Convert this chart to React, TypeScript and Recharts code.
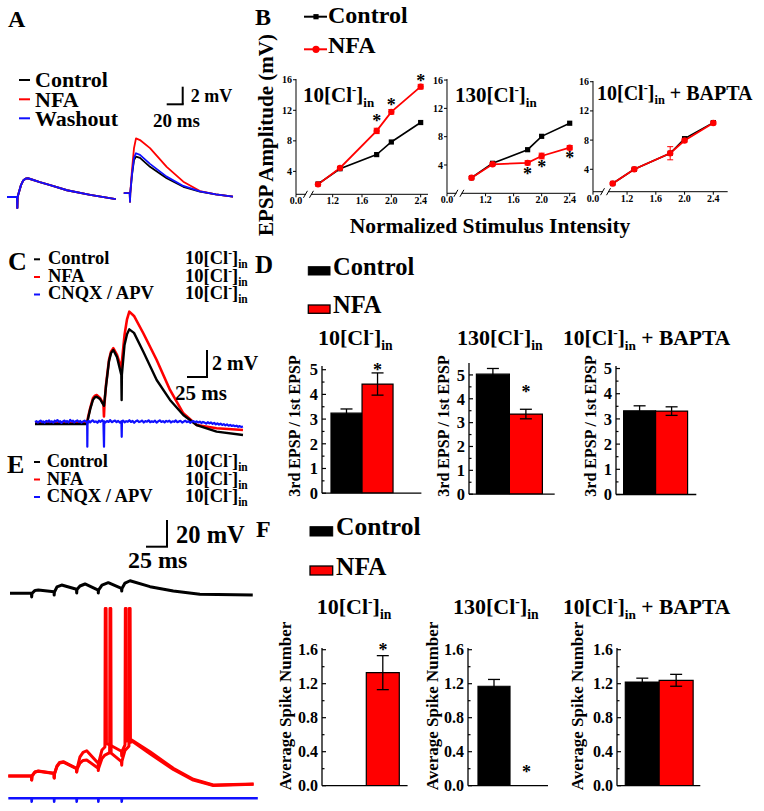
import React from 'react';
import { LineChart, Line, XAxis, YAxis, BarChart, Bar, Cell, ErrorBar, ReferenceDot } from 'recharts';

const FONT = "'Liberation Serif', 'Times New Roman', serif";
const RED = '#ff0000';
const BLUE = '#1010ff';

// ---------- Panel A traces (ms, mV) ----------
const aLeftTrace: number[][] = [[0,0],[12.5,0],[12.9,-1.3],[13.25,0],[15,0.6],[17.5,1.4],[20,1.9],[23,2.15],[26,2.2],[31,2.05],[41,1.75],[54,1.4],[75,0.8],[104,0.25],[136,-0.25]];
const aRightControl: number[][] = [[146,0.45],[153.4,0.45],[153.75,-0.55],[154.1,0.45],[156.25,2.6],[158.75,4.35],[161.25,4.75],[166.25,4.6],[178.75,3.55],[199.6,2.2],[220.4,1.2],[241.25,0.62],[261,0.3],[282.5,0.04]];
const aRightWashout: number[][] = [[146,0.45],[153.4,0.45],[153.75,-0.55],[154.1,0.45],[156.25,2.7],[158.75,4.6],[161.25,5.15],[166.25,4.95],[178.75,3.9],[199.6,2.4],[220.4,1.3],[241.25,0.65],[261,0.3],[282.5,0.04]];
const aRightNfa: number[][] = [[146,0.45],[153.4,0.45],[153.75,-0.55],[154.1,0.45],[156.25,3.2],[158.75,5.75],[161.25,6.9],[166.25,6.7],[178.75,5.75],[199.6,3.55],[220.4,1.8],[241.25,0.7],[261,0.3],[282.5,0.04]];

// ---------- Panel C traces ----------
const cNfa: number[][] = [[0,0],[65,0],[66.5,0.5],[69,1.13],[72.5,1.87],[75,2.05],[77.1,2.1],[81.25,1.88],[85.6,1.43],[86.2,0.5],[86.8,1.4],[88.75,2.84],[92.5,4.7],[95,5.3],[97.9,5.56],[102.5,5.06],[107.9,4.07],[109,4.8],[111.9,6.54],[115,7.7],[117.9,8.27],[123.75,7.95],[135.4,6.67],[152.1,4.69],[168.75,2.47],[185.4,0.74],[202,-0.13],[227,-0.37],[260,-0.5]];
const cControl: number[][] = [[0,-0.05],[65,-0.05],[66.5,0.4],[69,1.05],[72.5,1.75],[75,1.93],[77.1,1.97],[81.25,1.8],[85.6,1.36],[86.3,1.3],[88.75,2.75],[92.5,4.6],[95,5.2],[97.9,5.43],[102.5,4.9],[107.9,3.58],[108.3,1.73],[108.6,3.6],[111.9,5.8],[115,6.6],[117.9,6.96],[123.75,6.7],[135.4,5.3],[152.1,3.21],[168.75,1.73],[185.4,0.61],[202,-0.13],[227,-0.62],[260,-0.87]];
const cBlocked: number[][] = [[0,0.1],[2,0.16],[3.5,0.06],[5,0.12],[7,0.2],[9,0.08],[10.5,0.14],[12,0.04],[14,0.18],[16,0.11],[17.5,0.22],[19,0.09],[21,0.15],[23,0.05],[24.5,0.19],[26,0.12],[28,0.24],[30,0.1],[31.5,0.16],[33,0.03],[35,0.14],[37,0.2],[38.5,0.09],[40,0.17],[42,0.06],[44,0.25],[46,0.13],[47.5,0.19],[49,0.07],[51,0.15],[53,0.21],[55,0.1],[56.5,0.17],[58,0.05],[60,0.13],[62,0.2],[64,0.11],[65.2,0.1],[65.4,-1.73],[65.7,0.1],[67,0.18],[69,0.07],[70.5,0.16],[72,0.22],[74,0.09],[76,0.14],[78,0.04],[80,0.19],[82,0.11],[84,0.23],[85.5,0.12],[86.25,-1.73],[86.6,0.15],[88,0.06],[90,0.17],[92,0.1],[94,0.24],[96,0.08],[98,0.15],[100,0.2],[102,0.09],[104,0.18],[106,0.05],[108,0.15],[108.4,-1.0],[108.7,0.12],[110,0.2],[112,0.07],[114,0.16],[116,0.11],[118,0.23],[120,0.1],[122,0.17],[124,0.04],[126,0.15],[128,0.21],[130,0.09],[132,0.14],[134,0.2],[136,0.06],[138,0.16],[140,0.12],[142,0.22],[144,0.08],[146,0.15],[148,0.1],[150,0.19],[152,0.05],[154,0.14],[156,0.22],[158,0.1],[160,0.16],[162,0.07],[164,0.18],[166,0.12],[168,0.2],[170,0.06],[172,0.15],[174,0.11],[176,0.21],[178,0.08],[180,0.14],[182,0.18],[184,0.05],[186,0.13],[188,0.19],[190,0.09],[192,0.15],[194,0.04],[196,0.12],[198,0.17],[200,0.08],[202,0.14],[204,0.06],[206,0.12],[208,0.02],[210,0.1],[212,0.05],[214,-0.02],[216,0.08],[218,0.0],[220,0.06],[222,-0.04],[224,0.03],[226,-0.08],[228,0.0],[230,-0.1],[232,-0.03],[234,-0.12],[236,-0.06],[238,-0.15],[240,-0.08],[242,-0.18],[244,-0.12],[246,-0.2],[248,-0.15],[250,-0.22],[252,-0.18],[254,-0.26],[256,-0.21],[258,-0.27],[260,-0.24]];

// ---------- Panel E traces ----------
const eControl: number[][] = [[0,0],[25.6,0],[25.8,-2.7],[26.2,0],[29.8,2.1],[33.7,2.4],[52.4,1.2],[52.6,-1.3],[52.9,1.0],[55.9,4.7],[61.5,6.1],[79.2,3.0],[79.4,0.2],[79.7,2.8],[83.3,5.4],[89.3,6.9],[105,2.4],[105.1,0.2],[105.4,2.3],[109.5,6.1],[117,7.9],[132.7,3.7],[133,1.7],[133.3,3.5],[136.9,7.6],[142.9,9.3],[166.7,4.9],[194.4,1.7],[226,-0.74],[289,-1.26]];
const eNfaA: number[][] = [[-2,0],[25.6,0],[25.8,-3],[26.2,0],[29.8,3],[33.7,3.7],[52.4,2],[52.6,-1.5],[53,1.8],[55.9,7.4],[59,10],[63.5,10.6],[79.2,5.7],[79.4,3],[79.8,5.5],[83.3,14.1],[87,17.5],[91.3,18.7],[105,9.4],[105.1,7.4],[105.5,9.5],[109.5,19.3],[113,21.5],[113.4,124],[114.4,124],[114.8,24],[119,23],[132.7,18.3],[133,14.8],[133.3,18],[136.9,23],[137.3,124],[138.3,124],[138.7,26],[144.9,26.7],[166.7,18],[194.4,5.7],[218.2,-2.4],[242,-6.7],[290,-5.9]];
const eNfaB: number[][] = [[-2,0],[25.6,0],[25.8,-3],[26.2,0],[29.8,3],[33.7,3.5],[52.4,1.8],[52.6,-1.5],[53,1.6],[55.9,7],[59,9.6],[63.5,10.2],[79.2,5.5],[79.4,3],[79.8,5],[83.3,9.5],[87,11.5],[91.3,11.9],[105,5.7],[105.1,4],[105.5,5.8],[109.5,13],[113,15.5],[117,16.8],[118.6,17],[119,124],[120,124],[120.4,17],[132.7,10.6],[133,8],[133.3,11],[136.9,19],[141.6,22],[142,124],[143,124],[143.4,25],[146,25.5],[166.7,16.5],[194.4,4.8],[218.2,-3],[242,-7],[290,-6.2]];
const eBlocked: number[][] = [[-2,0],[25.6,0],[25.8,-2.5],[26.1,0],[52.4,0],[52.6,-2.5],[52.9,0],[79.2,0],[79.4,-2.5],[79.7,0],[105,0],[105.2,-2.5],[105.5,0],[132.8,0],[133,-2.5],[133.3,0],[295,0]];

// ---------- Panel B: EPSP amplitude vs normalized stimulus intensity ----------
const intensity = [1.0, 1.3, 1.8, 2.0, 2.4];
const b10Control = [2.35, 4.35, 6.2, 7.85, 10.4];
const b10Nfa = [2.3, 4.45, 9.3, 11.8, 15.1];
const b10NfaErr = [0.15, 0.2, 0.35, 0.3, 0.3];
const b130Control = [2.2, 4.24, 6.16, 8.05, 9.9];
const b130Nfa = [2.2, 4.1, 4.3, 5.27, 6.44];
const b130NfaErr = [0.15, 0.2, 0.3, 0.4, 0.3];
const bBaptaControl = [2.05, 4.0, 6.2, 8.2, 10.4];
const bBaptaNfa = [2.05, 4.0, 6.2, 7.95, 10.35];
const bBaptaNfaErr = [0.1, 0.1, 0.9, 0.2, 0.15];
const b10Stars = [[1.8, 10.86], [2.0, 13.0], [2.4, 16.2]];
const b130Stars = [[1.8, 3.1], [2.0, 4.07], [2.4, 5.27]];
const bYTicks = [4, 8, 12, 16];

// ---------- Panel D: 3rd EPSP / 1st EPSP ----------
const groups = ['Control', 'NFA'];
const d10 = [3.24, 4.42];
const d10Err = [0.17, 0.45];
const d130 = [5.03, 3.36];
const d130Err = [0.24, 0.2];
const dBapta = [3.32, 3.31];
const dBaptaErr = [0.2, 0.17];
const dTicks = [0, 1, 2, 3, 4, 5];

// ---------- Panel F: average spike number ----------
const f10 = [0, 1.33];
const f10Err = [0, 0.2];
const f130 = [1.17, 0];
const f130Err = [0.08, 0];
const fBapta = [1.22, 1.24];
const fBaptaErr = [0.045, 0.07];
const fTicks = [0, 0.4, 0.8, 1.2, 1.6];

const barColors = ['#000000', RED];

type Series = { data: number[][]; color: string; w: number };

function Trace({ box, origin, pxMs, pxMv, lines }: { box: number[]; origin: number[]; pxMs: number; pxMv: number; lines: Series[] }) {
  const [bx, by, bw, bh] = box;
  const xd = [(bx - origin[0]) / pxMs, (bx + bw - origin[0]) / pxMs];
  const yd = [(origin[1] - (by + bh)) / pxMv, (origin[1] - by) / pxMv];
  return (
    <div style={{ position: 'absolute', left: bx, top: by }}>
      <LineChart width={bw} height={bh} margin={{ top: 0, right: 0, bottom: 0, left: 0 }}>
        <XAxis type="number" dataKey="t" domain={xd} hide allowDataOverflow />
        <YAxis type="number" domain={yd} hide allowDataOverflow />
        {lines.map((l, i) => (
          <Line key={i} data={l.data.map(([t, v]) => ({ t, v }))} dataKey="v" stroke={l.color} strokeWidth={l.w}
            dot={false} isAnimationActive={false} type="linear" strokeLinejoin="round" />
        ))}
      </LineChart>
    </div>
  );
}

const starShape = (fs: number) => (p: any) => (
  <text x={p.cx} y={p.cy + fs * 0.47} textAnchor="middle" fontSize={fs} fontWeight="bold" fontFamily={FONT} fill="#000">*</text>
);

const squareDot = (p: any) => (
  <rect key={`s${p.index}`} x={p.cx - 2.6} y={p.cy - 2.6} width={5.2} height={5.2} fill="#000" />
);
const circleDot = (p: any) => (
  <circle key={`c${p.index}`} cx={p.cx} cy={p.cy} r={3.2} fill={RED} />
);
const breakShape = (p: any) => (
  <g>
    <rect x={p.cx - 2.5} y={p.cy - 2} width={5} height={4} fill="#fff" />
    <line x1={p.cx - 5} y1={p.cy + 3.5} x2={p.cx - 1} y2={p.cy - 3.5} stroke="#000" strokeWidth={1} />
    <line x1={p.cx + 1} y1={p.cy + 3.5} x2={p.cx + 5} y2={p.cy - 3.5} stroke="#000" strokeWidth={1} />
  </g>
);

const tickStyle = (fs: number) => ({ fontSize: fs, fontWeight: 'bold' as const, fill: '#000', fontFamily: FONT });

// inward tick marks (major + minor) with labels on majors
const inwardTick = (fmt: (v: number) => string, fs: number, majors: number[]) => (p: any) => {
  const v = p.payload.value;
  const isMajor = majors.some((m) => Math.abs(m - v) < 1e-6);
  const ax = p.x + 3;
  return (
    <g>
      <line x1={ax} x2={ax + (isMajor ? 4 : 2.5)} y1={p.y} y2={p.y} stroke="#000" strokeWidth={1.2} />
      {isMajor ? (
        <text x={p.x - 1} y={p.y} dy="0.35em" textAnchor="end" fontSize={fs} fontWeight="bold" fontFamily={FONT} fill="#000">{fmt(v)}</text>
      ) : null}
    </g>
  );
};

function BPanel({ box, xDomain, yDomain, control, nfa, nfaErr, stars, breakX }: any) {
  const [x0, y0, x1, y1] = box;
  const YW = 30, MT = 12, MR = 8, XH = 20;
  const data = intensity.map((x, i) => ({ x, c: control[i], n: nfa[i], ne: nfaErr[i] }));
  const ticks = [xDomain[0], 1.2, 1.6, 2.0, 2.4];
  return (
    <div style={{ position: 'absolute', left: x0 - YW, top: y0 - MT }}>
      <LineChart width={YW + (x1 - x0) + MR} height={MT + (y1 - y0) + XH} data={data} margin={{ top: MT, right: MR, left: 0, bottom: 0 }}>
        <XAxis type="number" dataKey="x" domain={xDomain} ticks={ticks} interval={0} allowDataOverflow
          tickFormatter={(v: number) => (v === xDomain[0] ? '0.0' : v.toFixed(1))} height={XH}
          axisLine={{ stroke: '#000', strokeWidth: 1 }} tickLine={{ stroke: '#000' }} tickSize={3} tickMargin={0} tick={tickStyle(10)} />
        <YAxis type="number" domain={yDomain} ticks={bYTicks} interval={0} allowDataOverflow width={YW}
          axisLine={{ stroke: '#000', strokeWidth: 1 }} tickLine={{ stroke: '#000' }} tickSize={3} tickMargin={1} tick={tickStyle(10)} />
        <Line dataKey="c" stroke="#000" strokeWidth={1.6} dot={squareDot} isAnimationActive={false} type="linear" />
        <Line dataKey="n" stroke={RED} strokeWidth={1.8} dot={circleDot} isAnimationActive={false} type="linear">
          <ErrorBar dataKey="ne" width={3} stroke={RED} strokeWidth={1} direction="y" />
        </Line>
        {stars.map((s: number[], i: number) => (
          <ReferenceDot key={i} x={s[0]} y={s[1]} ifOverflow="visible" shape={starShape(18)} />
        ))}
        <ReferenceDot x={breakX} y={yDomain[0]} ifOverflow="visible" shape={breakShape} />
      </LineChart>
    </div>
  );
}

function BarPanel({ box, yDomain, yTicks, fmt, values, errs, pad, star, fs }: any) {
  const [x0, y0, x1, y1] = box;
  const YW = 36, MT = 26, MR = 4, XH = 2, MB = 12;
  const data = groups.map((g, i) => ({ g, v: values[i], e: errs[i] }));
  const allTicks: number[] = [];
  yTicks.forEach((t: number, i: number) => {
    allTicks.push(t);
    if (i < yTicks.length - 1) allTicks.push((t + yTicks[i + 1]) / 2);
  });
  return (
    <div style={{ position: 'absolute', left: x0 - YW, top: y0 - MT }}>
      <BarChart width={YW + (x1 - x0) + MR} height={MT + (y1 - y0) + XH + MB} data={data}
        margin={{ top: MT, right: MR, left: 0, bottom: MB }} barCategoryGap={0} barGap={0}>
        <XAxis dataKey="g" type="category" tick={false} tickLine={false} height={XH}
          axisLine={{ stroke: '#000', strokeWidth: 1.3 }} padding={{ left: pad[0], right: pad[1] }} />
        <YAxis type="number" domain={yDomain} ticks={allTicks} interval={0} allowDataOverflow width={YW}
          axisLine={{ stroke: '#000', strokeWidth: 1.3 }} tickLine={false}
          tickSize={0} tickMargin={3} tick={inwardTick(fmt, fs, yTicks)} />
        <Bar dataKey="v" stroke="#000" strokeWidth={1.2} isAnimationActive={false}>
          {data.map((d, i) => <Cell key={i} fill={barColors[i]} />)}
          <ErrorBar dataKey="e" width={6} stroke="#000" strokeWidth={1.3} direction="y" />
        </Bar>
        {star ? <ReferenceDot x={star[0]} y={star[1]} ifOverflow="visible" shape={starShape(18)} /> : null}
      </BarChart>
    </div>
  );
}

function T({ x, y, fs, children, anchor }: any) {
  return <text x={x} y={y} fontSize={fs} fontWeight="bold" fontFamily={FONT} fill="#000" textAnchor={anchor || 'start'}>{children}</text>;
}

function Lines({ x, ys, fs, items }: any) {
  return (
    <text fontSize={fs} fontWeight="bold" fontFamily={FONT} fill="#000">
      {items.map((s: string, i: number) => <tspan key={i} x={x} y={ys[i]}>{s}</tspan>)}
    </text>
  );
}

function clParts(fs: number, pre: string, post: string | undefined, x?: number, y?: number, k = 0) {
  const parts = [
    <tspan key={`a${k}`} x={x} y={y}>{pre}[Cl</tspan>,
    <tspan key={`b${k}`} dy={-fs * 0.38} fontSize={fs * 0.62}>-</tspan>,
    <tspan key={`c${k}`} dy={fs * 0.38}>]</tspan>,
    <tspan key={`d${k}`} dy={fs * 0.22} fontSize={fs * 0.62}>in</tspan>,
  ];
  if (post) parts.push(<tspan key={`e${k}`} dy={-fs * 0.22}>{post}</tspan>);
  return parts;
}

function Cl({ x, y, fs, pre, post }: any) {
  return (
    <text fontSize={fs} fontWeight="bold" fontFamily={FONT} fill="#000">
      {clParts(fs, pre, post, x, y)}
    </text>
  );
}

function ClRows({ x, ys, fs }: any) {
  return (
    <text fontSize={fs} fontWeight="bold" fontFamily={FONT} fill="#000">
      {ys.map((y: number, i: number) => clParts(fs, '10', undefined, x, y, i))}
    </text>
  );
}

function VT({ x, y, fs, children }: any) {
  return (
    <text transform={`translate(${x},${y}) rotate(-90)`} fontSize={fs} fontWeight="bold" fontFamily={FONT} fill="#000" textAnchor="middle">{children}</text>
  );
}

export default function App() {
  return (
    <div style={{ position: 'absolute', left: 0, top: 0, width: 764, height: 811, background: '#fff', overflow: 'hidden' }}>
      {/* Panel A */}
      <Trace box={[0, 128, 250, 90]} origin={[7, 197]} pxMs={0.8} pxMv={8.5} lines={[
        { data: aLeftTrace, color: '#000', w: 2 },
        { data: aLeftTrace, color: RED, w: 2 },
        { data: aLeftTrace, color: BLUE, w: 2 },
        { data: aRightControl, color: '#000', w: 1.8 },
        { data: aRightNfa, color: RED, w: 1.8 },
        { data: aRightWashout, color: BLUE, w: 1.8 },
      ]} />

      {/* Panel C */}
      <Trace box={[30, 300, 222, 152]} origin={[35, 423.3]} pxMs={0.8} pxMv={13.5} lines={[
        { data: cNfa, color: RED, w: 2.6 },
        { data: cControl, color: '#000', w: 2.4 },
        { data: cBlocked, color: BLUE, w: 2.2 },
      ]} />

      {/* Panel E */}
      <Trace box={[0, 570, 262, 35]} origin={[10, 593.3]} pxMs={0.84} pxMv={1.35} lines={[
        { data: eControl, color: '#000', w: 3 },
      ]} />
      <Trace box={[0, 600, 262, 195]} origin={[10, 776]} pxMs={0.84} pxMv={1.35} lines={[
        { data: eNfaB, color: RED, w: 3 },
        { data: eNfaA, color: RED, w: 3 },
      ]} />
      <Trace box={[0, 790, 262, 18]} origin={[10, 798.3]} pxMs={0.84} pxMv={1.35} lines={[
        { data: eBlocked, color: BLUE, w: 2.6 },
      ]} />

      {/* Panel B */}
      <BPanel box={[296, 79, 428, 194.3]} xDomain={[0.7, 2.5]} yDomain={[1.0, 16.1]}
        control={b10Control} nfa={b10Nfa} nfaErr={b10NfaErr} stars={b10Stars} breakX={0.87} />
      <BPanel box={[446.7, 79, 575, 193.3]} xDomain={[0.65, 2.48]} yDomain={[0, 16.15]}
        control={b130Control} nfa={b130Nfa} nfaErr={b130NfaErr} stars={b130Stars} breakX={0.82} />
      <BPanel box={[593.3, 81, 728, 191.7]} xDomain={[0.726, 2.6]} yDomain={[0.93, 16.1]}
        control={bBaptaControl} nfa={bBaptaNfa} nfaErr={bBaptaNfaErr} stars={[]} breakX={0.9} />

      {/* Panel D */}
      <BarPanel box={[322.3, 366.3, 421.7, 493.5]} yDomain={[0, 5.15]} yTicks={dTicks} fmt={(v: number) => String(v)}
        values={d10} errs={d10Err} pad={[9, 28.3]} star={['NFA', 5.1]} fs={16.5} />
      <BarPanel box={[469.3, 363.1, 555, 494.3]} yDomain={[0, 5.5]} yTicks={dTicks} fmt={(v: number) => String(v)}
        values={d130} errs={d130Err} pad={[7.4, 12.3]} star={['NFA', 4.37]} fs={16.5} />
      <BarPanel box={[615.7, 365.8, 696, 494.3]} yDomain={[0, 5.1]} yTicks={dTicks} fmt={(v: number) => String(v)}
        values={dBapta} errs={dBaptaErr} pad={[7.6, 8.7]} fs={16.5} />

      {/* Panel F */}
      <BarPanel box={[321.7, 648.3, 407.3, 786]} yDomain={[0, 1.62]} yTicks={fTicks} fmt={(v: number) => v.toFixed(1)}
        values={f10} errs={f10Err} pad={[11, 8]} star={['NFA', 1.62]} fs={16} />
      <BarPanel box={[468.3, 648.3, 548.3, 786]} yDomain={[0, 1.62]} yTicks={fTicks} fmt={(v: number) => v.toFixed(1)}
        values={f130} errs={f130Err} pad={[10, 5.3]} star={['NFA', 0.19]} fs={16} />
      <BarPanel box={[616.7, 648.3, 700, 786]} yDomain={[0, 1.62]} yTicks={fTicks} fmt={(v: number) => v.toFixed(1)}
        values={fBapta} errs={fBaptaErr} pad={[8.3, 7.3]} fs={16} />

      {/* Text & annotation overlay */}
      <svg width={764} height={811} style={{ position: 'absolute', left: 0, top: 0, pointerEvents: 'none' }}>
        {/* A */}
        <T x={8} y={27} fs={24}>A</T>
        <line x1={19} y1={80} x2={30} y2={80} stroke="#000" strokeWidth={2} />
        <line x1={19} y1={99.3} x2={30} y2={99.3} stroke={RED} strokeWidth={2} />
        <line x1={19} y1={118.3} x2={30} y2={118.3} stroke={BLUE} strokeWidth={2} />
        <Lines x={35} ys={[87.3, 106.7, 126]} fs={22} items={['Control', 'NFA', 'Washout']} />
        <line x1={182.7} y1={86.7} x2={182.7} y2={104.3} stroke="#000" strokeWidth={2} />
        <line x1={166.7} y1={104.3} x2={183.7} y2={104.3} stroke="#000" strokeWidth={2} />
        <T x={190.7} y={101.7} fs={18}>2 mV</T>
        <T x={153} y={126.7} fs={19}>20 ms</T>

        {/* B */}
        <T x={255} y={25} fs={24}>B</T>
        <line x1={304} y1={16.7} x2={327} y2={16.7} stroke="#000" strokeWidth={2} />
        <rect x={313.4} y={14.1} width={5.2} height={5.2} fill="#000" />
        <T x={328} y={23} fs={24}>Control</T>
        <line x1={304} y1={49.3} x2={327} y2={49.3} stroke={RED} strokeWidth={2} />
        <circle cx={316} cy={49.3} r={3.6} fill={RED} />
        <T x={328} y={53} fs={24}>NFA</T>
        <VT x={273} y={135} fs={21}>EPSP Amplitude (mV)</VT>
        <T x={490} y={233.3} fs={21.5} anchor="middle">Normalized Stimulus Intensity</T>
        <Cl x={303} y={102} fs={21} pre="10" />
        <Cl x={455} y={102} fs={21} pre="130" />
        <Cl x={597} y={100} fs={20} pre="10" post=" + BAPTA" />

        {/* C */}
        <T x={8} y={270} fs={26}>C</T>
        <line x1={34} y1={259.3} x2={40} y2={259.3} stroke="#000" strokeWidth={2} />
        <line x1={34} y1={277} x2={40} y2={277} stroke={RED} strokeWidth={2} />
        <line x1={34} y1={294.5} x2={40} y2={294.5} stroke={BLUE} strokeWidth={2} />
        <Lines x={48} ys={[264.3, 281.7, 299]} fs={18.5} items={['Control', 'NFA', 'CNQX / APV']} />
        <ClRows x={185} ys={[264.3, 281.7, 299]} fs={18.5} />
        <line x1={207} y1={350} x2={207} y2={377} stroke="#000" strokeWidth={2} />
        <line x1={187} y1={377} x2={208} y2={377} stroke="#000" strokeWidth={2} />
        <T x={212} y={370} fs={20}>2 mV</T>
        <T x={175} y={400} fs={21}>25 ms</T>

        {/* D */}
        <T x={255} y={273} fs={25}>D</T>
        <rect x={308.3} y={266.7} width={21.7} height={8.3} fill="#000" stroke="#000" strokeWidth={1} />
        <T x={333} y={275} fs={24.5}>Control</T>
        <rect x={308.3} y={305} width={21.7} height={8.3} fill={RED} stroke="#000" strokeWidth={1.3} />
        <T x={333} y={313.3} fs={24.5}>NFA</T>
        <Cl x={318} y={345} fs={22} pre="10" />
        <Cl x={457} y={345} fs={22} pre="130" />
        <Cl x={563} y={345} fs={21.5} pre="10" post=" + BAPTA" />
        <VT x={300} y={426} fs={16}>3rd EPSP / 1st EPSP</VT>
        <VT x={449} y={426} fs={16}>3rd EPSP / 1st EPSP</VT>
        <VT x={595.6} y={426} fs={16}>3rd EPSP / 1st EPSP</VT>

        {/* E */}
        <T x={7} y={473} fs={26}>E</T>
        <line x1={34} y1={462} x2={40} y2={462} stroke="#000" strokeWidth={2} />
        <line x1={34} y1={479.5} x2={40} y2={479.5} stroke={RED} strokeWidth={2} />
        <line x1={34} y1={497} x2={40} y2={497} stroke={BLUE} strokeWidth={2} />
        <Lines x={46.7} ys={[467.3, 485, 502.3]} fs={18.5} items={['Control', 'NFA', 'CNQX / APV']} />
        <ClRows x={185} ys={[467.3, 485, 502.3]} fs={18.5} />
        <line x1={167} y1={520} x2={167} y2={546.7} stroke="#000" strokeWidth={2} />
        <line x1={146} y1={546.7} x2={168} y2={546.7} stroke="#000" strokeWidth={2} />
        <T x={176} y={543.3} fs={24.5}>20 mV</T>
        <T x={128} y={568.3} fs={24}>25 ms</T>

        {/* F */}
        <T x={256} y={537} fs={24}>F</T>
        <rect x={310} y={526.7} width={22.7} height={9.3} fill="#000" stroke="#000" strokeWidth={1} />
        <T x={336} y={535} fs={25.5}>Control</T>
        <rect x={310} y={566} width={22.7} height={9} fill={RED} stroke="#000" strokeWidth={1.3} />
        <T x={336} y={575} fs={25.5}>NFA</T>
        <Cl x={316.7} y={614} fs={22} pre="10" />
        <Cl x={453} y={614} fs={22} pre="130" />
        <Cl x={563} y={614} fs={21.5} pre="10" post=" + BAPTA" />
        <VT x={290.5} y={706} fs={17}>Average Spike Number</VT>
        <VT x={437.5} y={706} fs={17}>Average Spike Number</VT>
        <VT x={582.5} y={706} fs={17}>Average Spike Number</VT>
      </svg>
    </div>
  );
}
